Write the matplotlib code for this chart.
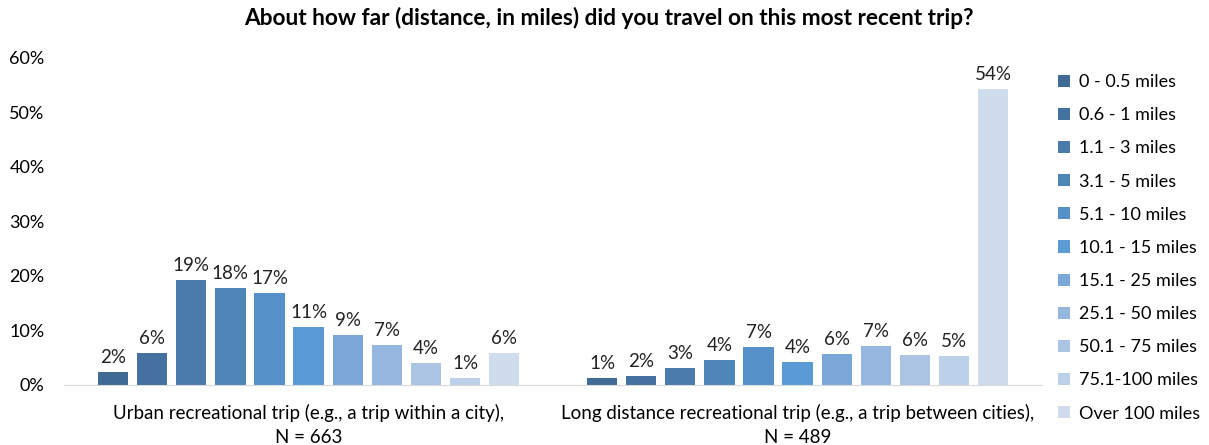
import matplotlib.pyplot as plt
import numpy as np

plt.rcParams['font.family'] = ['Lato', 'DejaVu Sans']

trip_types = ['Urban recreational trip (e.g., a trip within a city),\nN = 663',
              'Long distance recreational trip (e.g., a trip between cities),\nN = 489']
distances = ['0 - 0.5 miles', '0.6 - 1 miles', '1.1 - 3 miles', '3.1 - 5 miles',
             '5.1 - 10 miles', '10.1 - 15 miles', '15.1 - 25 miles', '25.1 - 50 miles',
             '50.1 - 75 miles', '75.1-100 miles', 'Over 100 miles']
urban = [2.4, 5.8, 19.3, 17.7, 16.9, 10.7, 9.1, 7.3, 4.0, 1.3, 5.8]
long_distance = [1.2, 1.6, 3.1, 4.5, 6.9, 4.2, 5.7, 7.2, 5.5, 5.3, 54.2]
colors = ['#3F6A94', '#44719F', '#4A7BAD', '#4F86BA', '#5690C8', '#5B9BD5',
          '#7BA7D8', '#95B6DE', '#ABC4E4', '#BDD0EA', '#CFDCEE']

fig = plt.figure(figsize=(12.09, 4.45), dpi=100)
ax = fig.add_axes([0.053, 0.135, 0.809, 0.735])

x = np.arange(len(trip_types))
step = 0.080
width = 0.062
for i, name in enumerate(distances):
    vals = [urban[i], long_distance[i]]
    pos = x + (i - 5) * step
    bars = ax.bar(pos, vals, width, color=colors[i], label=name)
    for b, v in zip(bars, vals):
        ax.text(b.get_x() + b.get_width() / 2, v + 1.1, f'{v:.0f}%',
                ha='center', va='bottom', fontsize=13.5, color='#222222')

ax.set_xlim(-0.5, 1.5)
ax.set_ylim(0, 60)
ax.set_yticks(range(0, 61, 10))
ax.set_yticklabels([f'{t}%' for t in range(0, 61, 10)], fontsize=13)
ax.set_xticks(x)
ax.set_xticklabels(trip_types, fontsize=13.5, linespacing=1.45)
ax.tick_params(length=0)
ax.tick_params(axis='y', pad=14)
ax.tick_params(axis='x', pad=14)
for s in ['top', 'right', 'left']:
    ax.spines[s].set_visible(False)
ax.spines['bottom'].set_color('#D9D9D9')

fig.suptitle('About how far (distance, in miles) did you travel on this most recent trip?',
             fontsize=16.3, fontweight='bold', x=0.504, y=0.985)

ax.legend(loc='upper left', bbox_to_anchor=(1.0, 1.0), frameon=False,
          fontsize=13, handlelength=0.65, handleheight=0.65, labelspacing=0.95,
          handletextpad=0.5)

fig.savefig('out.png')
